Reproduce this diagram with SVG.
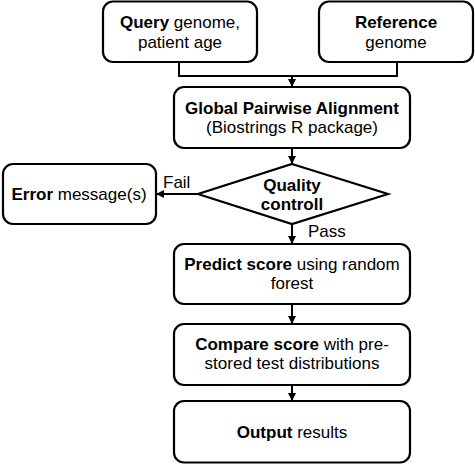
<svg xmlns="http://www.w3.org/2000/svg" width="475" height="464" viewBox="0 0 475 464">
<style>
.box{fill:#fff;stroke:#000;stroke-width:2.2}
.t{font-family:"Liberation Sans",Arial,sans-serif;font-size:17px;fill:#000;text-anchor:middle}
.s{text-anchor:start}
.b{font-weight:bold}
.c{fill:none;stroke:#000;stroke-width:2}
</style>
<defs>
<marker id="a" viewBox="0 0 10 10" refX="10" refY="5" markerWidth="4" markerHeight="4" orient="auto" markerUnits="strokeWidth">
<path d="M0,0 L10,5 L0,10 z" fill="#000"/>
</marker>
</defs>
<rect width="475" height="464" fill="#fff"/>
<g id="connectors">
<polyline class="c" points="179,62 179,76 397,76 397,62"/>
<line class="c" x1="292" y1="76" x2="292" y2="87" marker-end="url(#a)"/>
<line class="c" x1="292" y1="148" x2="292" y2="164" marker-end="url(#a)"/>
<line class="c" x1="198" y1="194" x2="156" y2="194" marker-end="url(#a)"/>
<line class="c" x1="292" y1="224" x2="292" y2="244" marker-end="url(#a)"/>
<line class="c" x1="292" y1="304" x2="292" y2="324" marker-end="url(#a)"/>
<line class="c" x1="292" y1="385" x2="292" y2="401" marker-end="url(#a)"/>
<text class="t s" x="163" y="188">Fail</text>
<text class="t s" x="308" y="237">Pass</text>
</g>
<g id="query">
<rect class="box" x="103" y="1.5" width="154" height="60.5" rx="10"/>
<text class="t" x="180" y="28"><tspan class="b">Query</tspan> genome,</text>
<text class="t" x="180" y="48">patient age</text>
</g>
<g id="reference">
<rect class="box" x="319" y="1.5" width="154" height="60.5" rx="10"/>
<text class="t b" x="396" y="28">Reference</text>
<text class="t" x="396" y="48">genome</text>
</g>
<g id="alignment">
<rect class="box" x="174" y="87" width="236" height="61" rx="10"/>
<text class="t b" x="292" y="114">Global Pairwise Alignment</text>
<text class="t" x="292" y="133">(Biostrings R package)</text>
</g>
<g id="quality">
<polygon class="box" points="292,164 388,194 292,224 198,194"/>
<text class="t b" x="292" y="191">Quality</text>
<text class="t b" x="292" y="210">controll</text>
</g>
<g id="error">
<rect class="box" x="3" y="164" width="153" height="60" rx="10"/>
<text class="t" x="79" y="200"><tspan class="b">Error</tspan> message(s)</text>
</g>
<g id="predict">
<rect class="box" x="174" y="244" width="236" height="60" rx="10"/>
<text class="t" x="292" y="270"><tspan class="b">Predict score</tspan> using random</text>
<text class="t" x="292" y="289">forest</text>
</g>
<g id="compare">
<rect class="box" x="174" y="324" width="236" height="61" rx="10"/>
<text class="t" x="292" y="350"><tspan class="b">Compare score</tspan> with pre-</text>
<text class="t" x="292" y="369">stored test distributions</text>
</g>
<g id="output">
<rect class="box" x="174" y="401" width="236" height="61.5" rx="10"/>
<text class="t" x="292" y="438"><tspan class="b">Output</tspan> results</text>
</g>
</svg>
